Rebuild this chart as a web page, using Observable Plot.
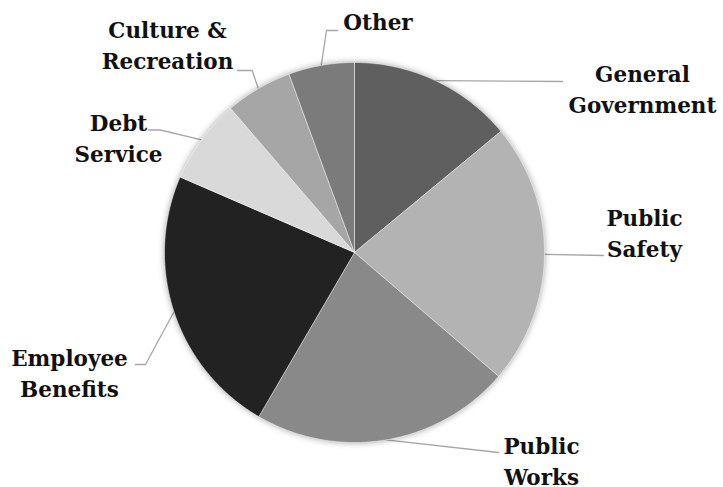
<!DOCTYPE html>
<html>
<head>
<meta charset="utf-8">
<script src="https://cdn.jsdelivr.net/npm/d3@7"></script>
<script src="https://cdn.jsdelivr.net/npm/@observablehq/plot@0.6"></script>
<style>
  html, body { margin: 0; padding: 0; background: #ffffff; }
  #chart { width: 723px; height: 487px; }
</style>
</head>
<body>
<div id="chart"></div>
<script>
// ---- Data ----
const categories = ["General Government", "Public Safety", "Public Works", "Employee Benefits", "Debt Service", "Culture & Recreation", "Other"];
const shares = [14.0, 22.3, 22.1, 23.1, 7.2, 5.7, 5.6];
const colors = ["#5f5f5f", "#b3b3b3", "#898989", "#222222", "#d9d9d9", "#a6a6a6", "#7b7b7b"];
const labelLines = [["General", "Government"], ["Public", "Safety"], ["Public", "Works"], ["Employee", "Benefits"], ["Debt", "Service"], ["Culture &", "Recreation"], ["Other"]];

// ---- Layout (pixels) ----
const W = 723, H = 487, CX = 354, CY = 252, R = 190;
const FS = 21.5, LINE = 31;
const labelLayout = [
  {bend: [[562, 81]], tx: 642, ty: 81.7},
  {bend: [[603, 255]], tx: 644, ty: 225},
  {bend: [[498, 452]], tx: 541, ty: 453},
  {bend: [[145, 364], [135, 364]], tx: 69, ty: 365},
  {bend: [[160, 129.5], [148, 129.5]], tx: 118, ty: 130},
  {bend: [[251.7, 70], [237, 70]], tx: 167, ty: 37.5},
  {bend: [[326, 30], [337, 30]], tx: 377.5, ty: 29}
];
const ux = px => (px - CX) / R;
const uy = py => (CY - py) / R;

// ---- Wedges in unit coordinates (angle clockwise from 12 o'clock) ----
const total = d3.sum(shares);
const wedges = [];
const leaders = [];
const texts = [];
let acc = 0;
categories.forEach((cat, i) => {
  const a0 = acc / total * 2 * Math.PI;
  acc += shares[i];
  const a1 = acc / total * 2 * Math.PI;
  wedges.push({cat, color: colors[i], x: 0, y: 0});
  const n = Math.max(2, Math.ceil((a1 - a0) / (Math.PI / 360)));
  for (let k = 0; k <= n; k++) {
    const a = a0 + (a1 - a0) * k / n;
    wedges.push({cat, color: colors[i], x: Math.sin(a), y: Math.cos(a)});
  }
  wedges.push({cat, color: colors[i], x: 0, y: 0});

  const am = (a0 + a1) / 2;
  const L = labelLayout[i];
  leaders.push({cat, x: Math.sin(am), y: Math.cos(am)});
  L.bend.forEach(([bx, by]) => leaders.push({cat, x: ux(bx), y: uy(by)}));

  labelLines[i].forEach((t, j) => {
    // middle line anchor puts the baseline 0.32em below y
    texts.push({text: t, x: ux(L.tx), y: uy(L.ty + j * LINE - 0.32 * FS)});
  });
});

const chart = Plot.plot({
  width: W,
  height: H,
  margin: 0,
  x: {domain: [ux(0), ux(W)], axis: null},
  y: {domain: [uy(H), uy(0)], axis: null},
  marks: [
    Plot.line(leaders, {x: "x", y: "y", z: "cat", stroke: "#a6a6a6", strokeWidth: 1.3, curve: "linear"}),
    Plot.line(wedges, {x: "x", y: "y", z: "cat", fill: "color", stroke: "#ffffff", strokeWidth: 0.6, strokeOpacity: 0.8, curve: "linear"}),
    Plot.text(texts, {x: "x", y: "y", text: "text", textAnchor: "middle", fontSize: FS, fontWeight: "bold", fontFamily: "DejaVu Serif", fill: "#111111"})
  ]
});

document.getElementById("chart").appendChild(chart);
// soft shadow around the pie
const groups = chart.querySelectorAll('g[aria-label="line"]');
if (groups.length > 1) groups[1].style.filter = "drop-shadow(0px 0px 3px rgba(0,0,0,0.35))";
</script>
</body>
</html>
